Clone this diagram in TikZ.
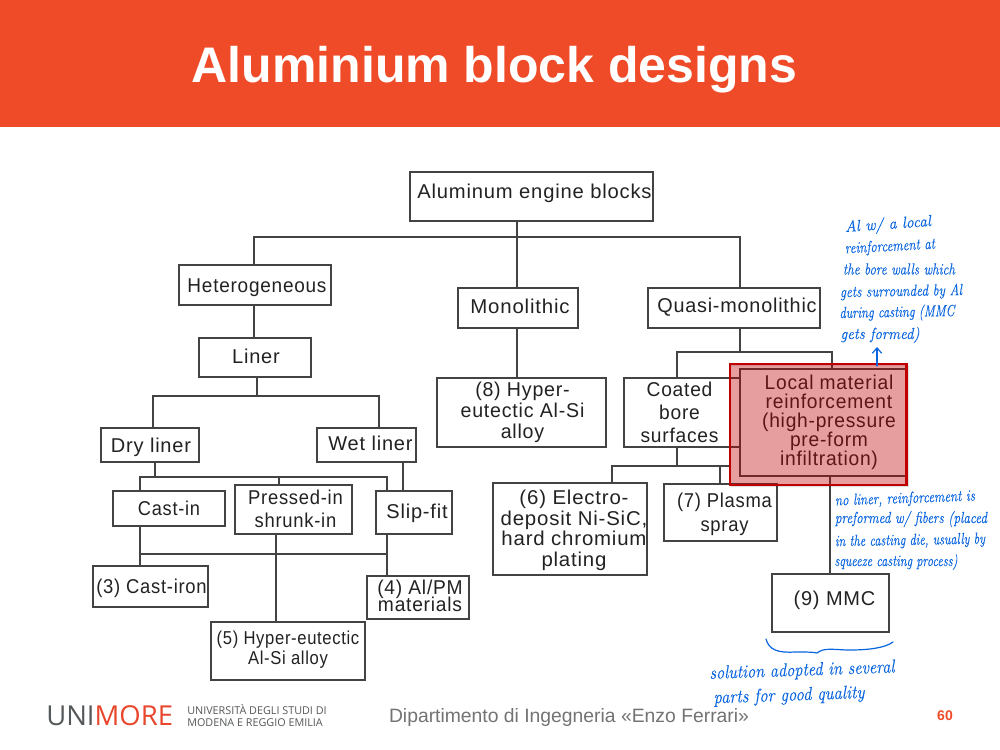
\documentclass[tikz,border=0pt]{standalone}
\usepackage{fontspec}
\usetikzlibrary{arrows.meta}
\setmainfont{Liberation Sans}
\newfontfamily\diag[LetterSpace=4]{Liberation Sans}
\newfontfamily\hand[FakeBold=0.3]{Latin Modern Roman}
\newfontfamily\logofont{Open Sans}
\newfontfamily\logosub{Open Sans}
\definecolor{hdr}{HTML}{F04B28}
\definecolor{ink}{HTML}{222222}
\definecolor{pen}{HTML}{0A66E0}
\definecolor{overlay}{HTML}{C00000}
\definecolor{unired}{HTML}{E8472C}
\definecolor{unigray}{HTML}{55585A}
\newcommand{\bx}[6]{\node[boxnode,minimum width={(#4-#2)*0.75pt},minimum height={(#5-#3)*0.75pt}] (#1) at ({(#2+#4)/2},{(#3+#5)/2}) {#6};}
\newcommand{\tx}[4]{\raisebox{\dimexpr-#2pt*3/4-5.75pt\relax}[0pt][0pt]{\makebox[0pt]{\hspace*{\dimexpr 2pt*#1*3/4\relax}\scalebox{#3}[1]{\begin{tabular}{@{}c@{}}#4\end{tabular}}}}}
\newcommand{\hw}[7][]{\node[pentext,#1,rotate=#5] (#2) at (#3,#4) {\resizebox{\dimexpr #6pt*3/4\relax}{\height}{\itshape #7}};}
\tikzset{
  x=0.75pt,y=-0.75pt,
  boxnode/.style={draw=ink!85,line width=1pt,fill=white,inner sep=0pt,align=center,text=ink,font=\diag\fontsize{15}{17}\selectfont},
  link/.style={draw=ink!85,line width=1pt},
  pentext/.style={text=pen,inner sep=0pt,font=\hand\fontsize{12}{14}\selectfont},
  bigpen/.style={font=\hand\fontsize{14}{16}\selectfont},
  penline/.style={draw=pen,line width=0.9pt,line cap=round}
}
\begin{document}
\begin{tikzpicture}
\useasboundingbox (0,0) rectangle (1000,750);
\fill[white] (0,0) rectangle (1000,750);
\node[fill=hdr,minimum width=750pt,minimum height=95.25pt,inner sep=0pt] (header) at (500,63.5) {};
\node[text=white,inner sep=0pt,font=\bfseries\fontsize{37.5}{40}\selectfont] (title) at (494.5,70) {Aluminium block designs};

% junctions
\coordinate (jtop) at (517,237);
\coordinate (jquasi) at (740,352);
\coordinate (jliner) at (257,396);
\coordinate (jdry) at (155,477);
\coordinate (jcast) at (140,554);
\coordinate (jcoat) at (677,466);

% boxes
\bx{top}{410}{172}{653}{221}{\tx{3}{-5}{1.01}{Aluminum engine blocks}}
\bx{het}{179}{265}{331}{305}{\tx{2}{0}{.95}{Heterogeneous}}
\bx{mono}{458}{288}{578}{328}{\tx{2}{-2}{1.02}{Monolithic}}
\bx{quasi}{648}{288}{820}{328}{\tx{3}{-3}{.99}{Quasi-monolithic}}
\bx{liner}{199}{338}{311}{377}{\tx{1}{-1}{1}{Liner}}
\bx{hyper}{437}{378}{606}{447}{\tx{1}{-2}{.98}{(8) Hyper-\\[-1.25pt]eutectic Al-Si\\[-1.25pt]alloy}}
\bx{coated}{624}{378}{745}{447}{\tx{-5}{0}{.96}{Coated\\[.25pt]bore\\[.25pt]surfaces}}
\bx{dry}{101}{428}{199}{462}{\tx{1}{0}{1}{Dry liner}}
\bx{wet}{317}{428}{416}{462}{\tx{4}{-2}{1}{Wet liner}}
\bx{castin}{113}{491}{225}{526}{\tx{0}{0}{.91}{Cast-in}}
\bx{pressed}{235}{485}{352}{534}{\tx{2}{-1}{.92}{Pressed-in\\shrunk-in}}
\bx{slip}{376}{491}{452}{534}{\tx{3}{-1}{1}{Slip-fit}}
\bx{iron}{93}{566}{208}{607}{\tx{1}{0}{.92}{(3) Cast-iron}}
\bx{alpm}{367}{576}{469}{619}{\tx{2}{-2}{.96}{(4) Al/PM\\[-4.25pt]materials}}
\bx{hypers}{211}{622}{365}{680}{\fontsize{14}{15}\selectfont\tx{0}{-3}{.89}{(5) Hyper-eutectic\\Al-Si alloy}}
\bx{elec}{493}{483}{647}{575}{\tx{4}{-1}{1.02}{(6) Electro-\\[-1.5pt]deposit Ni-SiC,\\[-1.5pt]hard chromium\\[-1.5pt]plating}}
\bx{plasma}{664}{484}{777}{541}{\tx{4}{0}{.92}{(7) Plasma\\[1pt]spray}}
\bx{mmc}{772}{574}{889}{632}{\tx{4}{-5}{1}{(9) MMC}}
\bx{local}{740}{369}{906}{476}{\tx{6}{-2}{.96}{Local material\\[-2.75pt]reinforcement\\[-2.75pt](high-pressure\\[-2.75pt]pre-form\\[-2.75pt]infiltration)}}

% connectors
\draw[link] (top.south -| jtop) -- (jtop);
\draw[link] (het.north -| 254,0) |- (jtop) -| (quasi.north -| jquasi);
\draw[link] (jtop) -- (mono.north -| jtop);
\draw[link] (het.south -| 254,0) -- (liner.north -| 254,0);
\draw[link] (mono.south -| jtop) -- (hyper.north -| jtop);
\draw[link] (quasi.south -| jquasi) -- (jquasi);
\draw[link] (coated.north -| jcoat) |- (jquasi) -| (local.north -| 832,0);
\draw[link] (liner.south -| jliner) -- (jliner);
\draw[link] (dry.north -| 153,0) |- (jliner) -| (wet.north -| 379,0);
\draw[link] (dry.south -| jdry) -- (jdry);
\draw[link] (castin.north -| 140,0) |- (jdry) -| (slip.north -| 387,0);
\draw[link] (pressed.north -| 279,0) -- (279,477);
\draw[link] (wet.south -| 403,0) -- (slip.north -| 403,0);
\draw[link] (castin.south -| jcast) -- (iron.north -| jcast);
\draw[link] (jcast) -- (387,554);
\draw[link] (slip.south -| 387,0) -- (alpm.north -| 387,0);
\draw[link] (pressed.south -| 276,0) -- (hypers.north -| 276,0);
\draw[link] (coated.south -| jcoat) -- (jcoat);
\draw[link] (elec.north -| 612,0) |- (jcoat) -- (730,466);
\draw[link] (plasma.north -| 720,0) -- (720,466);
\draw[link] (local.south -| 830,0) -- (mmc.north -| 830,0);

% highlight
\fill[black,opacity=0.12,even odd rule] (731,366) rectangle (909,487) (730,364) rectangle (906.5,485);
\node[draw=overlay,line width=1.6pt,fill=overlay,fill opacity=0.38,draw opacity=1,inner sep=0pt,minimum width=132.4pt,minimum height=90.75pt] (mark) at (818.2,424.5) {};

% handwriting
\hw{n1}{888}{225}{4}{86}{Al w/ a local}
\hw{n2}{890}{247}{3}{90}{reinforcement at}
\hw{n3}{899}{269}{0}{112}{the bore walls which}
\hw{n4}{901}{292}{1}{122}{gets surrounded by Al}
\hw{n5}{897}{313}{1}{115}{during casting (MMC}
\hw{n6}{880}{335}{0}{79}{gets formed)}
\coordinate (arrowend) at (877,347);
\draw[penline,-{Straight Barb[length=4pt,width=7pt]}] (mark.north -| arrowend) ++(0,3) -- (arrowend);
\hw{n7}{905}{499}{2}{140}{no liner, reinforcement is}
\hw{n8}{911}{519}{0}{152}{preformed w/ fibers (placed}
\hw{n9}{910}{541}{1}{150}{in the casting die, usually by}
\hw{n10}{896}{562}{0}{123}{squeeze casting process)}
\draw[penline] (766,639) .. controls (769,650) and (778,653) .. (795,652) .. controls (806,652) and (813,652) .. (817,653) .. controls (824,647) and (835,650) .. (850,650) .. controls (868,650) and (885,648) .. (893,642);
\hw[bigpen]{n11}{802}{671}{2}{185}{solution adopted in several}
\hw[bigpen]{n12}{789}{696}{2}{151}{parts for good quality}

% footer
\node[inner sep=0pt,anchor=west,font=\logofont\fontsize{20.6}{24}\selectfont] (uni) at (46,716) {\textcolor{unigray}{UNI}\textcolor{unired}{MORE}};
\node[inner sep=0pt,anchor=west,align=left,text=unigray,font=\logosub\fontsize{8.1}{9}\selectfont] (univ) at (187,716) {UNIVERSITÀ DEGLI STUDI DI\\MODENA E REGGIO EMILIA};
\node[inner sep=0pt,text=black!55,font=\fontsize{14.5}{16}\selectfont] (dept) at (569,717) {Dipartimento di Ingegneria «Enzo Ferrari»};
\node[inner sep=0pt,text=hdr,font=\bfseries\fontsize{10.5}{12}\selectfont] (page) at (945,716) {60};
\end{tikzpicture}
\end{document}
